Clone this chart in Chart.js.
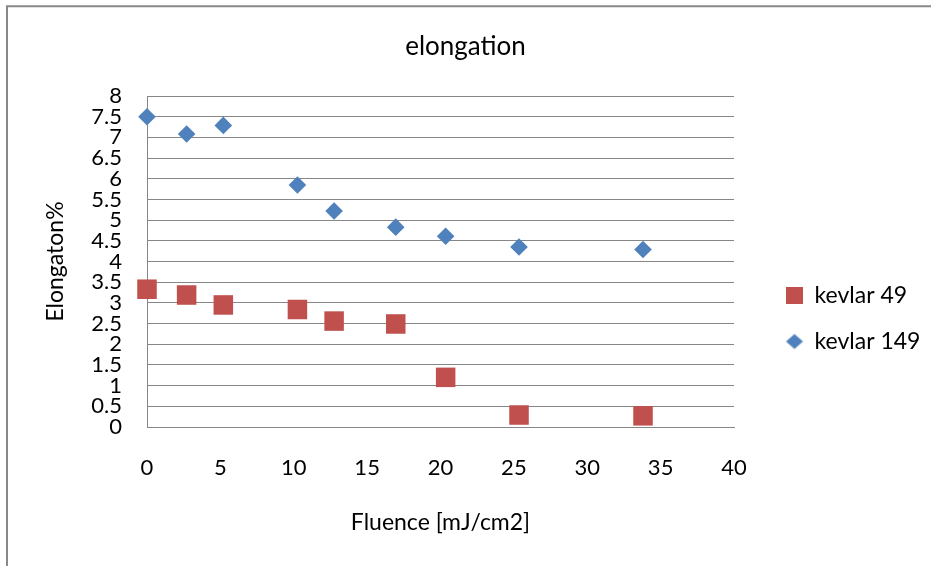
<!DOCTYPE html>
<html><head><meta charset="utf-8">
<script src="https://cdn.jsdelivr.net/npm/chart.js@4/dist/chart.umd.min.js"></script>
<style>html,body{margin:0;padding:0;background:#fff;}canvas{display:block;}</style>
</head><body>
<canvas id="c" width="931" height="566"></canvas>
<script>
// ---- data ----
const fluence   = [0, 2.7, 5.2, 10.25, 12.75, 16.95, 20.35, 25.35, 33.8];
const kevlar49  = [3.33, 3.19, 2.95, 2.84, 2.56, 2.49, 1.20, 0.29, 0.27];
const kevlar149 = [7.5, 7.08, 7.29, 5.85, 5.22, 4.83, 4.61, 4.35, 4.29];
const seriesNames = ['kevlar 49', 'kevlar 149'];
const yTickLabels = ['0','0.5','1','1.5','2','2.5','3','3.5','4','4.5','5','5.5','6','6.5','7','7.5','8'];
const xTickLabels = ['0','5','10','15','20','25','30','35','40'];
const chartTitle = 'elongation';
const xTitle = 'Fluence [mJ/cm2]';
const yTitle = 'Elongaton%';

const RED = '#C0504D', BLUE = '#4F81BD', GRID = '#878787';
const FAMILY = 'Lato, "Open Sans", sans-serif';

Chart.defaults.font.family = FAMILY;
Chart.defaults.color = '#000';

// layout targets
const PLOT_LEFT = 147, PLOT_RIGHT = 734, GAP_RIGHT = 29;
const LEG_FONT = 23, LEG_BOX = 17, LEG_PAD = 23;
const mctx = document.createElement('canvas').getContext('2d');
mctx.font = LEG_FONT + 'px ' + FAMILY;
const legTextW = Math.max(...seriesNames.map(s => mctx.measureText(s).width));
const legendW = LEG_PAD + LEG_BOX + LEG_FONT / 2 + legTextW;
const SIDE = Math.max(0, 931 - PLOT_RIGHT - GAP_RIGHT - legendW);

// legend diamond symbol
const diamond = document.createElement('canvas');
diamond.width = 18; diamond.height = 18;
(function(){ const g = diamond.getContext('2d'); g.fillStyle = BLUE; g.beginPath();
  g.moveTo(0.5,9); g.lineTo(9,1.5); g.lineTo(17.5,9); g.lineTo(9,16.5); g.closePath(); g.fill(); })();

const frame = {
  id: 'frame',
  beforeDraw(chart) {
    const c = chart.ctx;
    c.save();
    c.fillStyle = '#fff'; c.fillRect(0,0,chart.width,chart.height);
    c.strokeStyle = '#898989'; c.lineWidth = 2;
    c.beginPath(); c.moveTo(7, chart.height); c.lineTo(7, 6.3); c.lineTo(chart.width, 6.3); c.stroke();
    c.restore();
  }
};

// one-time correction so the plot's right edge lands where the reference has it
let corrected = false;
const fixRight = {
  id: 'fixRight',
  afterLayout(chart) {
    if (corrected) return;
    corrected = true;
    const d = chart.chartArea.right - PLOT_RIGHT;
    if (Math.abs(d) > 0.5) {
      const p = chart.options.layout.padding;
      const s = Math.max(0, p.right + d);
      p.left = s; p.right = s;
      chart.options.scales.y.title.padding.top = 56 - 13.8 - s;
      setTimeout(() => chart.update('none'), 0);
    }
  }
};

const toPts = (ys) => ys.map((y, i) => ({x: fluence[i], y}));

new Chart(document.getElementById('c'), {
  type: 'scatter',
  data: {
    datasets: [
      { label: seriesNames[0], data: toPts(kevlar49), pointStyle: 'rect', pointRadius: 13.8, pointHoverRadius: 13.8,
        backgroundColor: RED, borderColor: RED, borderWidth: 0, clip: false },
      { label: seriesNames[1], data: toPts(kevlar149), pointStyle: 'rectRot', pointRadius: 8.8, pointHoverRadius: 8.8,
        backgroundColor: BLUE, borderColor: BLUE, borderWidth: 0, clip: false }
    ]
  },
  options: {
    responsive: false,
    animation: false,
    events: [],
    layout: { padding: { left: SIDE, right: SIDE, top: 0, bottom: 0 } },
    plugins: {
      tooltip: { enabled: false },
      title: { display: true, text: chartTitle, font: { size: 26, weight: 'normal' }, color: '#000',
               padding: { top: 31.4, bottom: 33.4 } },
      legend: {
        position: 'right',
        title: { display: true, text: ' ', font: { size: 10 }, padding: { top: 29, bottom: 30 } },
        labels: {
          usePointStyle: true, boxWidth: LEG_BOX, boxHeight: LEG_BOX, padding: LEG_PAD,
          font: { size: LEG_FONT }, color: '#000',
          generateLabels(chart) {
            const items = Chart.defaults.plugins.legend.labels.generateLabels(chart);
            items.forEach(it => { if (it.pointStyle === 'rectRot') it.pointStyle = diamond; });
            return items;
          }
        }
      }
    },
    scales: {
      x: {
        type: 'linear', min: 0, max: 40,
        ticks: { stepSize: 5, padding: 28, font: { size: 22 }, color: '#000',
                 callback: (v, i) => xTickLabels[i] },
        grid: { display: false, drawTicks: false },
        border: { display: true, color: GRID, width: 1 },
        title: { display: true, text: xTitle, font: { size: 23 }, color: '#000', padding: { top: 0, bottom: 30 } },
        afterFit: (s) => { s.height = 139; }
      },
      y: {
        type: 'linear', min: 0, max: 8,
        ticks: { stepSize: 0.5, padding: 25, autoSkip: false, font: { size: 22 }, color: '#000',
                 callback: (v, i) => yTickLabels[i] },
        grid: { display: true, color: GRID, lineWidth: 1, drawTicks: false },
        border: { display: true, color: GRID, width: 1 },
        title: { display: true, text: yTitle, font: { size: 23 }, color: '#000',
                 padding: { top: 56 - 13.8 - SIDE, bottom: 0 } },
        afterFit: (s) => { s.width = PLOT_LEFT - s.chart.options.layout.padding.left; }
      },
      // invisible spacer between plot and legend
      y2: {
        type: 'linear', position: 'right', min: 0, max: 1, display: false,
        afterFit: (s) => { s.width = GAP_RIGHT; }
      }
    }
  },
  plugins: [frame, fixRight]
});
</script>
</body></html>
